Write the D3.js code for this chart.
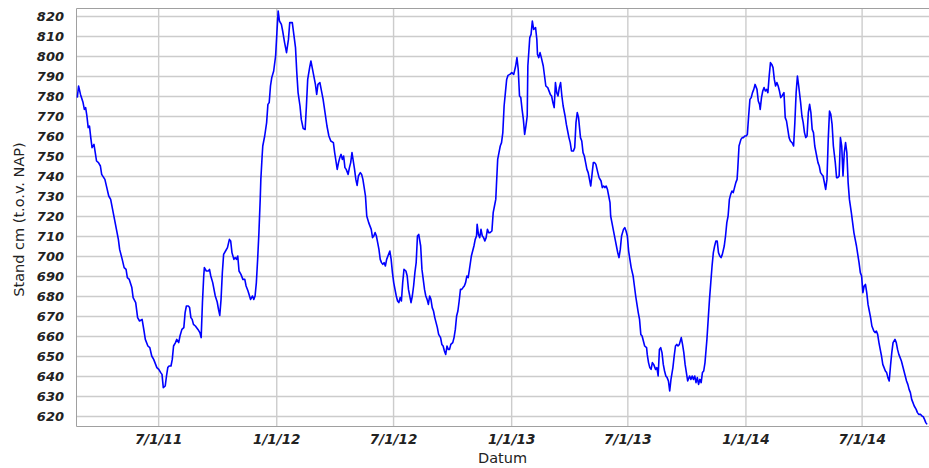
<!DOCTYPE html>
<html>
<head>
<meta charset="utf-8">
<script src="https://cdn.jsdelivr.net/npm/d3@7"></script>
<style>
  html, body { margin: 0; padding: 0; background: #fff; }
  svg { display: block; }
</style>
</head>
<body>
<svg id="chart" width="929" height="468"></svg>
<script>
// Waterstand (cm t.o.v. NAP), februari 2011 – oktober 2014
const dates2011 = [
  "2011-02-25","2011-02-27","2011-03-02","2011-03-06","2011-03-08","2011-03-10","2011-03-12","2011-03-14","2011-03-16","2011-03-18",
  "2011-03-20","2011-03-23","2011-03-25","2011-03-27","2011-03-30","2011-04-02","2011-04-04","2011-04-09","2011-04-12","2011-04-15",
  "2011-04-18","2011-04-21","2011-04-24","2011-04-27","2011-04-30","2011-05-02","2011-05-06","2011-05-09","2011-05-12","2011-05-14",
  "2011-05-17","2011-05-21","2011-05-23","2011-05-27","2011-05-30","2011-06-02","2011-06-06","2011-06-09","2011-06-11","2011-06-15",
  "2011-06-18","2011-06-21","2011-06-24","2011-06-26","2011-06-29","2011-07-02","2011-07-05","2011-07-07","2011-07-09","2011-07-12",
  "2011-07-14","2011-07-16","2011-07-18","2011-07-21","2011-07-23","2011-07-25","2011-07-28","2011-07-30","2011-08-02","2011-08-04",
  "2011-08-07","2011-08-10","2011-08-12","2011-08-14","2011-08-17","2011-08-19","2011-08-21","2011-08-23","2011-08-25","2011-08-28",
  "2011-09-01","2011-09-04","2011-09-06","2011-09-08","2011-09-10","2011-09-11","2011-09-14","2011-09-17","2011-09-19","2011-09-21",
  "2011-09-24","2011-09-28","2011-10-01","2011-10-03","2011-10-05","2011-10-07","2011-10-09","2011-10-11","2011-10-14","2011-10-17",
  "2011-10-20","2011-10-22","2011-10-24","2011-10-27","2011-10-29","2011-10-31","2011-11-02","2011-11-04","2011-11-07","2011-11-10",
  "2011-11-13","2011-11-15","2011-11-18","2011-11-22","2011-11-25","2011-11-27","2011-11-29","2011-12-01","2011-12-03","2011-12-05",
  "2011-12-07","2011-12-08","2011-12-10","2011-12-11","2011-12-14","2011-12-17","2011-12-19","2011-12-21","2011-12-23","2011-12-25",
  "2011-12-28","2011-12-31"
];
const levels2011 = [
  779.2,785,780.8,776.7,773.3,774.2,770,764.2,765,759.2,
  754.2,755.8,751.7,747.5,746.7,745,740.8,738.3,734.2,730,
  728.3,723.3,718.3,713.3,708.3,703.3,698.3,694.2,693.3,689.2,
  688.3,684.2,679.2,676.7,669.2,667.5,668.3,662.5,658.3,655,
  654.2,650,648.3,646.7,644.2,643.3,641.7,640.8,634.2,635,
  640,644.2,645,645,648.3,655,656.7,658.3,656.7,660,
  663.3,664.2,671.7,675,675,674.2,669.2,668.3,665.8,665,
  663.3,661.7,659.2,676.7,690,694.2,692.5,692.5,693.3,690,
  686.7,680,677,673.3,670.3,678.3,691.7,700.8,702.5,704.2,
  708.3,707.5,701.7,698.3,699.2,698.3,700,692.5,690.8,688.3,
  688.3,685,682.5,678.3,680,678.3,680,686.7,698.3,711.7,
  728.3,738.3,750,755,760,766.7,775.8,776.7,785,789.2,
  792.5,800
];

const dates2012 = [
  "2012-01-02","2012-01-04","2012-01-06","2012-01-09","2012-01-11","2012-01-14","2012-01-17","2012-01-20","2012-01-22","2012-01-26",
  "2012-01-28","2012-01-31","2012-02-02","2012-02-04","2012-02-07","2012-02-09","2012-02-12","2012-02-15","2012-02-17","2012-02-19",
  "2012-02-22","2012-02-24","2012-02-26","2012-02-29","2012-03-02","2012-03-04","2012-03-06","2012-03-09","2012-03-11","2012-03-14",
  "2012-03-17","2012-03-20","2012-03-23","2012-03-26","2012-03-30","2012-04-01","2012-04-03","2012-04-05","2012-04-07","2012-04-09",
  "2012-04-11","2012-04-13","2012-04-15","2012-04-17","2012-04-19","2012-04-22","2012-04-24","2012-04-26","2012-04-28","2012-04-30",
  "2012-05-02","2012-05-04","2012-05-06","2012-05-08","2012-05-11","2012-05-13","2012-05-15","2012-05-17","2012-05-19","2012-05-21",
  "2012-05-24","2012-05-28","2012-05-30","2012-06-01","2012-06-03","2012-06-05","2012-06-07","2012-06-09","2012-06-11","2012-06-13",
  "2012-06-15","2012-06-17","2012-06-19","2012-06-21","2012-06-23","2012-06-26","2012-06-28","2012-06-30","2012-07-02","2012-07-04",
  "2012-07-06","2012-07-08","2012-07-10","2012-07-12","2012-07-14","2012-07-16","2012-07-18","2012-07-21","2012-07-23","2012-07-25",
  "2012-07-27","2012-07-29","2012-07-31","2012-08-02","2012-08-04","2012-08-06","2012-08-08","2012-08-10","2012-08-13","2012-08-15",
  "2012-08-17","2012-08-19","2012-08-21","2012-08-23","2012-08-25","2012-08-27","2012-08-29","2012-08-31","2012-09-02","2012-09-04",
  "2012-09-06","2012-09-08","2012-09-10","2012-09-13","2012-09-15","2012-09-17","2012-09-19","2012-09-21","2012-09-23","2012-09-25",
  "2012-09-27","2012-09-29","2012-10-02","2012-10-04","2012-10-06","2012-10-08","2012-10-10","2012-10-12","2012-10-14","2012-10-16",
  "2012-10-18","2012-10-20","2012-10-22","2012-10-24","2012-10-26","2012-10-28","2012-10-31","2012-11-02","2012-11-04","2012-11-06",
  "2012-11-08","2012-11-09","2012-11-11","2012-11-13","2012-11-15","2012-11-17","2012-11-19","2012-11-21","2012-11-23","2012-11-25",
  "2012-11-27","2012-11-29","2012-12-02","2012-12-04","2012-12-06","2012-12-08","2012-12-09","2012-12-11","2012-12-13","2012-12-15",
  "2012-12-17","2012-12-19","2012-12-21","2012-12-23","2012-12-25","2012-12-27","2012-12-30"
];
const levels2012 = [
  811.7,822.5,817.5,815.8,812.5,806.7,801.7,808.3,816.7,816.7,
  811.7,804.2,791.7,781.7,775,768.3,763.7,763.3,775,788.3,
  794.2,797.5,794.2,789.2,785.8,780.8,785.8,786.7,783.3,778.3,
  771.7,765,760,757.5,756.7,751.7,747.5,743.3,746.7,749.2,
  750.8,748.3,750,744.2,743.3,740.8,744.2,746.7,751.7,747.5,
  743.3,738.3,735.3,740,741.7,740.8,738.3,734.2,730,720,
  716.7,713.3,709.2,710,711.7,710,706.7,703.3,698.3,696.7,
  695.8,696.7,695,698.3,700,702.5,698.3,691.7,686.7,683.3,
  680,677.5,676.7,679.2,677.5,686.7,693.3,692.5,690,683.3,
  680,676.7,680,685,691.7,696.7,710,710.8,705,693.3,
  688.3,683.3,680,678.3,675.8,680,678.3,674.2,672.5,669.2,
  666.7,664.2,660.8,659.2,655.8,655,652.5,650.8,655,653.3,
  653.3,655.8,656.7,659.2,663.3,670,672.5,677.5,683.3,683.3,
  684.2,685,686.7,690,689.2,693.3,700,702.5,705,708.3,
  710,715.8,710.8,709.2,713.3,710,709.2,707.5,709.2,713.3,
  711.7,711.7,712.5,721.7,725,728.3,735,748.3,751.7,755,
  756.7,761.7,775,781.7,788.3,790.3,790.8
];

const dates2013 = [
  "2013-01-02","2013-01-05","2013-01-08","2013-01-10","2013-01-12","2013-01-14","2013-01-16","2013-01-18","2013-01-20","2013-01-22",
  "2013-01-24","2013-01-26","2013-01-27","2013-01-30","2013-02-01","2013-02-03","2013-02-05","2013-02-08","2013-02-10","2013-02-11",
  "2013-02-13","2013-02-15","2013-02-17","2013-02-20","2013-02-22","2013-02-24","2013-02-27","2013-03-03","2013-03-05","2013-03-07",
  "2013-03-09","2013-03-11","2013-03-13","2013-03-15","2013-03-17","2013-03-19","2013-03-21","2013-03-23","2013-03-26","2013-03-28",
  "2013-03-30","2013-04-01","2013-04-03","2013-04-05","2013-04-08","2013-04-10","2013-04-12","2013-04-14","2013-04-16","2013-04-19",
  "2013-04-21","2013-04-23","2013-04-25","2013-04-27","2013-04-29","2013-05-01","2013-05-03","2013-05-05","2013-05-07","2013-05-09",
  "2013-05-11","2013-05-13","2013-05-16","2013-05-18","2013-05-21","2013-05-23","2013-05-25","2013-05-27","2013-05-29","2013-05-31",
  "2013-06-02","2013-06-04","2013-06-05","2013-06-07","2013-06-09","2013-06-12","2013-06-14","2013-06-16","2013-06-18","2013-06-20",
  "2013-06-22","2013-06-25","2013-06-27","2013-06-29","2013-07-01","2013-07-03","2013-07-05","2013-07-07","2013-07-10","2013-07-12",
  "2013-07-14","2013-07-16","2013-07-18","2013-07-20","2013-07-22","2013-07-24","2013-07-26","2013-07-28","2013-07-31","2013-08-01",
  "2013-08-03","2013-08-05","2013-08-07","2013-08-09","2013-08-11","2013-08-14","2013-08-16","2013-08-18","2013-08-20","2013-08-22",
  "2013-08-24","2013-08-26","2013-08-28","2013-08-30","2013-09-01","2013-09-03","2013-09-05","2013-09-07","2013-09-10","2013-09-12",
  "2013-09-14","2013-09-16","2013-09-18","2013-09-20","2013-09-23","2013-09-25","2013-09-27","2013-09-29","2013-10-01","2013-10-03",
  "2013-10-06","2013-10-08","2013-10-10","2013-10-12","2013-10-14","2013-10-16","2013-10-18","2013-10-20","2013-10-22","2013-10-24",
  "2013-10-26","2013-10-28","2013-10-30","2013-11-02","2013-11-04","2013-11-06","2013-11-08","2013-11-10","2013-11-12","2013-11-14",
  "2013-11-16","2013-11-18","2013-11-20","2013-11-22","2013-11-24","2013-11-26","2013-11-29","2013-12-01","2013-12-03","2013-12-05",
  "2013-12-07","2013-12-09","2013-12-11","2013-12-13","2013-12-15","2013-12-17","2013-12-19","2013-12-20","2013-12-22","2013-12-25",
  "2013-12-27","2013-12-29","2013-12-31"
];
const levels2013 = [
  791.7,790.8,795,799.2,793.3,780,779.2,773.3,768.3,760.8,
  765,770,795,809.2,810.8,817.5,813.3,814.2,808.3,800.8,
  799.2,801.7,799.2,795,790,785,784.2,780.8,780,776.7,
  774.2,786.7,781.7,780,784.2,786.7,780,775,770,765.8,
  762.5,759.2,756.7,752.5,752.5,754.2,766.7,771.7,769.2,759.2,
  757.5,751.7,750,746.7,743.3,741.7,738.3,735,740.8,746.7,
  746.7,745.8,741.7,739.2,737.5,734.2,735,734.2,735,733.3,
  730,726.7,720,716.7,713.3,708.3,705,701.7,699.2,703.3,
  710,713.3,714.2,712.5,710,702.5,698.3,694.2,690,685,
  680,675.8,671.7,668.3,660.8,660,657.5,655,654.2,650.8,
  646.7,644.2,643.3,646.7,645.8,643.3,644.2,640,653.3,654.2,
  651.7,645.8,642.5,640,639.2,637.5,632.5,638.3,644.2,650,
  655,655.8,655,655.8,659.2,655.8,651.7,645.8,641.7,637.5,
  640,638.3,640,638.3,640,636.7,639.2,635.8,638.3,636.7,
  641.7,642.5,646.7,658.3,668.3,678.3,686.7,695,701.7,705,
  707.5,707.5,701.7,700,699.2,700.8,705,710,716.7,720,
  728.3,730.8,732.5,731.7,734.2,736.7,738.3,743.3,755,758.3,
  759.2,759.2,760
];

const dates2014 = [
  "2014-01-02","2014-01-04","2014-01-06","2014-01-08","2014-01-10","2014-01-12","2014-01-14","2014-01-16","2014-01-19","2014-01-21",
  "2014-01-23","2014-01-24","2014-01-26","2014-01-28","2014-01-30","2014-02-01","2014-02-03","2014-02-05","2014-02-07","2014-02-09",
  "2014-02-11","2014-02-13","2014-02-15","2014-02-17","2014-02-19","2014-02-21","2014-02-23","2014-02-25","2014-02-27","2014-03-02",
  "2014-03-04","2014-03-06","2014-03-08","2014-03-10","2014-03-12","2014-03-15","2014-03-17","2014-03-19","2014-03-21","2014-03-23",
  "2014-03-25","2014-03-28","2014-03-30","2014-04-01","2014-04-03","2014-04-05","2014-04-07","2014-04-09","2014-04-11","2014-04-13",
  "2014-04-15","2014-04-17","2014-04-19","2014-04-22","2014-04-24","2014-04-26","2014-04-28","2014-04-30","2014-05-02","2014-05-04",
  "2014-05-06","2014-05-08","2014-05-10","2014-05-12","2014-05-14","2014-05-16","2014-05-18","2014-05-21","2014-05-23","2014-05-25",
  "2014-05-27","2014-05-29","2014-05-31","2014-06-02","2014-06-04","2014-06-06","2014-06-08","2014-06-10","2014-06-12","2014-06-15",
  "2014-06-17","2014-06-19","2014-06-21","2014-06-23","2014-06-25","2014-06-27","2014-06-29","2014-07-01","2014-07-03","2014-07-05",
  "2014-07-07","2014-07-09","2014-07-11","2014-07-13","2014-07-15","2014-07-17","2014-07-20","2014-07-22","2014-07-24","2014-07-26",
  "2014-07-28","2014-07-30","2014-08-01","2014-08-03","2014-08-05","2014-08-07","2014-08-09","2014-08-11","2014-08-13","2014-08-15",
  "2014-08-17","2014-08-19","2014-08-22","2014-08-24","2014-08-26","2014-08-28","2014-08-30","2014-09-01","2014-09-03","2014-09-05",
  "2014-09-07","2014-09-09","2014-09-11","2014-09-13","2014-09-15","2014-09-17","2014-09-19","2014-09-21","2014-09-24","2014-09-26",
  "2014-09-28","2014-10-01","2014-10-03","2014-10-05","2014-10-07","2014-10-09","2014-10-11"
];
const levels2014 = [
  760,760.8,770,778.3,779.2,781.7,783.3,785.8,783.3,777.5,
  775.8,773.3,779.2,782.5,784.2,782.5,783.3,781.7,790,796.7,
  795.8,794.2,788.3,785,786.7,785,782.5,779.2,780,781.7,
  769.2,767.5,763.3,759.2,757.5,756.5,755,766.7,781.7,790,
  785,776.7,770,766.7,761.7,759.2,760,771.7,775.8,771.7,
  763.3,761.7,755,750,746.7,745,741.7,740.8,740,736.7,
  733.3,738.3,758.3,772.5,770.8,765.8,755,746.7,739.2,739.2,
  740,759.2,755,740,751.7,756.7,751.7,736.7,728.3,721.7,
  716.7,711.7,708.3,705,700.8,696.7,691.7,690,681.7,685,
  685.8,681.7,675.8,672.5,669.2,665,662.5,661.7,662.5,660.8,
  656.7,653.3,650,645.8,644.2,642.5,641.7,639.2,637.5,645,
  651.7,656.7,658.3,656.7,653.3,650.8,649.2,647.5,645,642.5,
  640,637.5,635.8,633.3,631.7,628.3,626.7,625,623.3,621.7,
  620.8,620.8,620,619.7,618.3,616.7,615.8
];

// Axis ticks
const yTickValues = [620,630,640,650,660,670,680,690,700,710,720,730,740,750,760,770,780,790,800,810,820];
const xTickDates = ["2011-07-01","2012-01-01","2012-07-01","2013-01-01","2013-07-01","2014-01-01","2014-07-01"];
const xTickLabels = ["7/1/11","1/1/12","7/1/12","1/1/13","7/1/13","1/1/14","7/1/14"];
const xDomain = ["2011-02-23","2014-10-14"];
const yDomain = [614.5, 824];
const yTitle = "Stand cm (t.o.v. NAP)";
const xTitle = "Datum";

const parse = d3.utcParse("%Y-%m-%d");
const allDates = [].concat(dates2011, dates2012, dates2013, dates2014);
const allLevels = [].concat(levels2011, levels2012, levels2013, levels2014);
const series = allDates.map((d, i) => ({ date: parse(d), value: allLevels[i] }));

const plot = { left: 76, top: 8, right: 929, bottom: 427 };
const pw = plot.right - plot.left, ph = plot.bottom - plot.top;

const x = d3.scaleUtc().domain(xDomain.map(parse)).range([plot.left, plot.right]);
const y = d3.scaleLinear().domain(yDomain).range([plot.bottom, plot.top]);

const svg = d3.select("#chart");
const tickFont = "'DejaVu Sans', sans-serif";

svg.append("rect")
  .attr("x", plot.left).attr("y", plot.top)
  .attr("width", pw).attr("height", ph)
  .attr("fill", "#ffffff");

// Y axis with horizontal grid lines
const yAxis = svg.append("g")
  .attr("transform", `translate(${plot.left},0)`)
  .call(d3.axisLeft(y).tickValues(yTickValues).tickSizeInner(-pw).tickSizeOuter(0).tickPadding(12));
yAxis.select(".domain").remove();
yAxis.selectAll(".tick line").attr("stroke", "#cccccc").attr("stroke-width", 1.4);
yAxis.selectAll(".tick text")
  .attr("font-family", tickFont).attr("font-size", 13)
  .attr("font-weight", "bold").attr("font-style", "italic")
  .attr("fill", "#222");

// X axis with vertical grid lines
const xAxis = svg.append("g")
  .attr("transform", `translate(0,${plot.bottom})`)
  .call(d3.axisBottom(x).tickValues(xTickDates.map(parse))
    .tickFormat((d, i) => xTickLabels[i])
    .tickSizeInner(-ph).tickSizeOuter(0).tickPadding(7));
xAxis.select(".domain").remove();
xAxis.selectAll(".tick line").attr("stroke", "#cccccc").attr("stroke-width", 1.4);
xAxis.selectAll(".tick text")
  .attr("font-family", tickFont).attr("font-size", 13.5)
  .attr("font-weight", "bold").attr("font-style", "italic")
  .attr("fill", "#222");

// Plot frame
svg.append("path")
  .attr("d", `M${plot.right},${plot.top + 0.5}H${plot.left + 0.5}V${plot.bottom - 0.5}H${plot.right}`)
  .attr("fill", "none").attr("stroke", "#a0a0a0").attr("stroke-width", 1);

// Water level line
const line = d3.line().x(d => x(d.date)).y(d => y(d.value));
svg.append("path")
  .datum(series)
  .attr("d", line)
  .attr("fill", "none")
  .attr("stroke", "#0000ff")
  .attr("stroke-width", 1.6)
  .attr("stroke-linejoin", "round");

// Axis titles
svg.append("text")
  .attr("transform", `translate(24,${(plot.top + plot.bottom) / 2 + 2}) rotate(-90)`)
  .attr("text-anchor", "middle")
  .attr("font-family", tickFont).attr("font-size", 14.5)
  .attr("fill", "#222")
  .text(yTitle);

svg.append("text")
  .attr("x", (plot.left + plot.right) / 2)
  .attr("y", 463)
  .attr("text-anchor", "middle")
  .attr("font-family", tickFont).attr("font-size", 14.5)
  .attr("fill", "#222")
  .text(xTitle);
</script>
</body>
</html>
